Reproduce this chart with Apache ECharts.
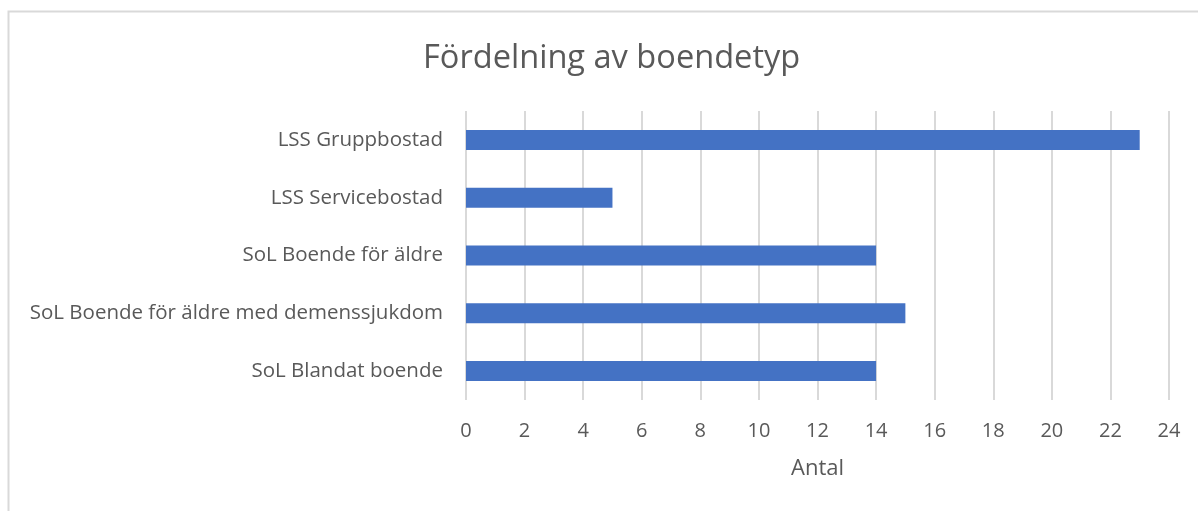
<!DOCTYPE html>
<html>
<head>
<meta charset="utf-8">
<script src="https://cdn.jsdelivr.net/npm/echarts@6/dist/echarts.min.js"></script>
<style>
	html, body { margin: 0; padding: 0; background: #fff; }
	#chart { width: 1198px; height: 511px; }
</style>
</head>
<body>
<div id="chart"></div>
<script>

const categories = [
	'SoL Blandat boende',
	'SoL Boende för äldre med demenssjukdom',
	'SoL Boende för äldre',
	'LSS Servicebostad',
	'LSS Gruppbostad',
];
const values = [14, 15, 14, 5, 23];
const xTicks = { min: 0, max: 24, interval: 2 };

const fontFamily = '"Open Sans", "Noto Sans", sans-serif';
const textColor = '#595959';

const chart = echarts.init(document.getElementById('chart'));
chart.setOption({
	animation: false,
	graphic: [
		{ // chart border
			type: 'rect',
			shape: { x: 8.5, y: 11.5, width: 1300, height: 600 },
			style: { fill: 'none', stroke: '#d9d9d9', lineWidth: 2 },
			silent: true,
		},
	],
	title: {
		text: 'Fördelning av boendetyp',
		left: 418,
		top: 37,
		textStyle: {
			fontFamily,
			fontSize: 32.6,
			fontWeight: 'normal',
			color: textColor,
		},
	},
	grid: {
		left: 466,
		right: 29,
		top: 111,
		height: 289,
		containLabel: false,
	},
	xAxis: {
		type: 'value',
		min: xTicks.min,
		max: xTicks.max,
		interval: xTicks.interval,
		name: 'Antal',
		nameLocation: 'middle',
		nameGap: 58,
		nameTextStyle: { fontFamily, fontSize: 22, color: textColor },
		axisLine: { show: false },
		axisTick: { show: false },
		axisLabel: { fontFamily, fontSize: 20, color: textColor, margin: 21 },
		splitLine: { show: true, lineStyle: { color: '#d9d9d9', width: 2 } },
	},
	yAxis: {
		type: 'category',
		data: categories,
		axisLine: { show: false },
		axisTick: { show: false },
		axisLabel: { fontFamily, fontSize: 20.5, color: textColor, margin: 23 },
	},
	series: [
		{
			type: 'bar',
			data: values,
			barWidth: 20,
			itemStyle: { color: '#4472c4' },
		},
	],
});
</script>
</body>
</html>
